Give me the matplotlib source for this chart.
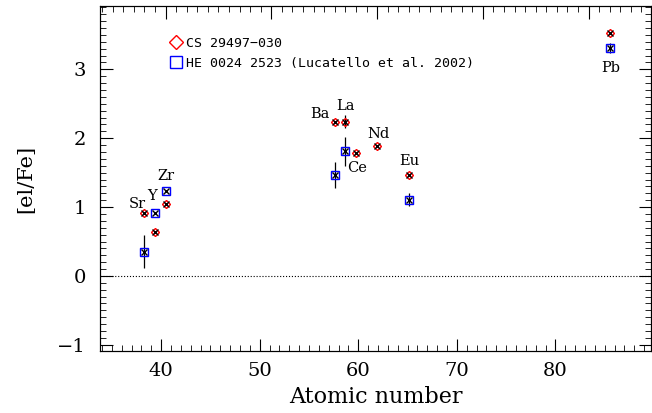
import matplotlib
matplotlib.use('Agg')
import matplotlib.pyplot as plt
import numpy as np
from matplotlib.ticker import MultipleLocator

plt.rcParams['font.family'] = 'DejaVu Serif'

elements = ['Sr', 'Y', 'Zr', 'Ba', 'La', 'Ce', 'Nd', 'Eu', 'Pb']

# CS 29497-030
z_cs = np.array([38, 39, 40, 56, 57, 58, 60, 63, 82])
ab_cs = np.array([0.92, 0.64, 1.04, 2.24, 2.24, 1.79, 1.88, 1.47, 3.53])
err_cs = np.array([0.0, 0.0, 0.0, 0.0, 0.09, 0.0, 0.0, 0.0, 0.0])

# HE 0024-2523 (Lucatello et al. 2002)
z_he = np.array([38, 39, 40, 56, 57, 63, 82])
ab_he = np.array([0.35, 0.92, 1.23, 1.47, 1.81, 1.11, 3.31])
err_he = np.array([0.24, 0.0, 0.0, 0.19, 0.21, 0.09, 0.07])

# element label positions
lab_x = [37.3, 38.7, 40.0, 54.6, 57.0, 58.1, 60.1, 63.0, 82.1]
lab_y = [1.05, 1.16, 1.45, 2.35, 2.47, 1.57, 2.06, 1.67, 3.02]

fig = plt.figure(figsize=(6.52, 4.13), dpi=100)
ax = fig.add_axes([100/652, 62/413, 551/652, 345/413])

# bottom axis with its own range (twiny resets ax ticks, so make it first)
axb = ax.twiny()

ax.axhline(0, color='black', ls=':', lw=0.8)

# red diamonds with black crosses
ax.errorbar(z_cs, ab_cs, yerr=err_cs, fmt='none', ecolor='black', elinewidth=0.9, capsize=0)
ax.plot(z_cs, ab_cs, ls='none', marker='D', ms=4, mfc='none', mec='red', mew=1.0)
ax.plot(z_cs, ab_cs, ls='none', marker='x', ms=4, color='black', mew=1.0)

# blue squares with black crosses
ax.errorbar(z_he, ab_he, yerr=err_he, fmt='none', ecolor='black', elinewidth=0.9, capsize=0)
ax.plot(z_he, ab_he, ls='none', marker='s', ms=6, mfc='none', mec='blue', mew=1.0)
ax.plot(z_he, ab_he, ls='none', marker='x', ms=4, color='black', mew=1.0)

for el, x, y in zip(elements, lab_x, lab_y):
    ax.text(x, y, el, ha='center', va='center', fontsize=10.5)

# legend drawn by hand like IDL
ax.plot([41.0], [3.39], ls='none', marker='D', ms=7, mfc='none', mec='red', mew=1.0)
ax.text(41.9, 3.37, 'CS 29497\u2212030', fontsize=9.5, va='center', family='DejaVu Sans Mono')
ax.plot([41.0], [3.10], ls='none', marker='s', ms=9, mfc='none', mec='blue', mew=1.0)
ax.text(41.9, 3.08, 'HE 0024 2523 (Lucatello et al. 2002)', fontsize=9.5, va='center',
        family='DejaVu Sans Mono')

ax.set_xlim(33.8, 85.9)
ax.set_ylim(-1.09, 3.92)
ax.set_yticks([-1, 0, 1, 2, 3])
ax.set_yticklabels(['\u22121', '0', '1', '2', '3'])
ax.yaxis.set_minor_locator(MultipleLocator(0.1))
ax.xaxis.set_major_locator(MultipleLocator(10))
ax.xaxis.set_minor_locator(MultipleLocator(1))
ax.xaxis.set_ticks_position('top')
ax.tick_params(axis='x', which='both', direction='in', top=True, bottom=False,
               labeltop=False, labelbottom=False)
ax.tick_params(axis='y', which='both', direction='in', left=True, right=True,
               labelsize=14, pad=10)
ax.tick_params(which='major', length=9)
ax.tick_params(which='minor', length=4.5)
ax.set_ylabel('[el/Fe]', fontsize=15, labelpad=16)

axb.set_xlim(33.8, 89.7)
axb.xaxis.set_ticks_position('bottom')
axb.xaxis.set_label_position('bottom')
axb.xaxis.set_major_locator(MultipleLocator(10))
axb.xaxis.set_minor_locator(MultipleLocator(1))
axb.tick_params(axis='x', which='both', direction='in', top=False, labeltop=False,
                labelbottom=True, labelsize=14, pad=8)
axb.tick_params(which='major', length=9)
axb.tick_params(which='minor', length=4.5)
axb.set_xlabel('Atomic number', fontsize=16, labelpad=4)

fig.savefig('out.png', dpi=100)
